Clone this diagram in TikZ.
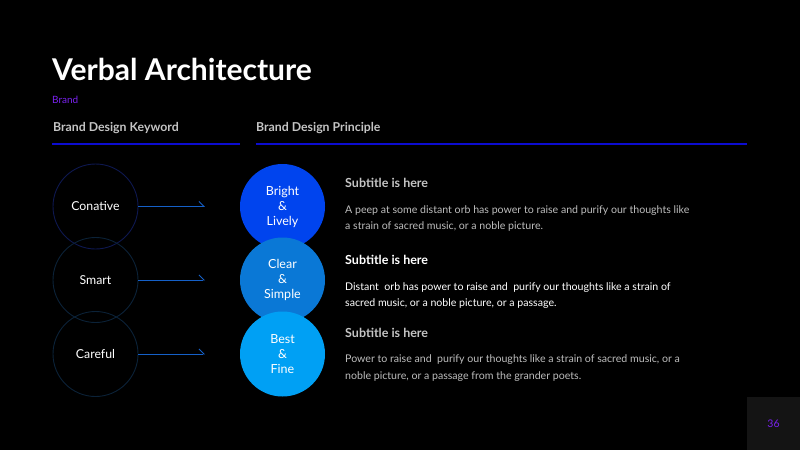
\documentclass[tikz,border=0pt]{standalone}
\usepackage{fontspec}
\setmainfont{Lato}
\usetikzlibrary{arrows.meta}
\definecolor{bgc}{HTML}{000000}
\definecolor{purp}{HTML}{7A22F0}
\definecolor{hdgray}{HTML}{C4C4C4}
\definecolor{bodygray}{HTML}{BDBDBD}
\definecolor{rulec}{HTML}{0C0CD0}
\definecolor{arrc}{HTML}{1560C8}
\definecolor{ringa}{HTML}{0E1850}
\definecolor{ringb}{HTML}{0B2238}
\definecolor{cbright}{HTML}{0044EE}
\definecolor{cclear}{HTML}{0A78D6}
\definecolor{cbest}{HTML}{00A0F4}
\definecolor{pgbox}{HTML}{141414}
\tikzset{
  keyring/.style={circle, draw=ringb, line width=0.9pt, minimum size=85pt, inner sep=0pt,
    text=white, font=\fontsize{12.3}{14}\selectfont},
  orb/.style={circle, minimum size=85pt, inner sep=0pt, text=white, align=center,
    font=\fontsize{12.5}{15}\selectfont},
  linkarrow/.style={draw=arrc, line width=0.9pt, -{Straight Barb[left,length=5pt,width=10pt]}},
  subt/.style={anchor=base west, inner sep=0pt, text=hdgray, font=\fontsize{12.5}{14}\selectfont\bfseries},
  bodytxt/.style={anchor=base west, inner sep=0pt, text=bodygray, font=\fontsize{10.6}{12}\selectfont},
  colhead/.style={anchor=base west, inner sep=0pt, text=hdgray, font=\fontsize{12.3}{14}\selectfont\bfseries},
  rulebar/.style={fill=rulec},
}
\begin{document}
\begin{tikzpicture}[x=1pt,y=-1pt]
\useasboundingbox (0,0) rectangle (800,450);
\fill[bgc] (0,0) rectangle (800,450);
% title
\node[anchor=base west, inner sep=0pt, text=white, font=\fontsize{30}{32}\selectfont\bfseries] (title) at (52,80) {Verbal Architecture};
\node[anchor=base west, inner sep=0pt, text=purp, font=\fontsize{10}{12}\selectfont] (brand) at (52,103) {Brand};
% column heads
\node[colhead] (kwhead) at (53,131) {Brand Design Keyword};
\node[colhead] (prhead) at (256,131) {Brand Design Principle};
\fill[rulebar] (52,143) rectangle (240,144.5);
\fill[rulebar] (256,143) rectangle (747,144.5);
% left rings
\node[keyring, draw=ringa] (k1) at (95.5,206.5) {Conative};
\node[keyring] (k2) at (95.5,280) {Smart};
\node[keyring] (k3) at (95.5,354) {Careful};
% arrow ends
\coordinate (e1) at (205,206.5);
\coordinate (e2) at (205,280);
\coordinate (e3) at (205,354);
\draw[linkarrow] (k1.east) -- (e1);
\draw[linkarrow] (k2.east) -- (e2);
\draw[linkarrow] (k3.east) -- (e3);
% right orbs
\node[orb, fill=cbright] (o1) at (282.5,206.5) {Bright\\\&\\Lively};
\node[orb, fill=cclear] (o2) at (282.5,280) {Clear\\\&\\Simple};
\node[orb, fill=cbest] (o3) at (282.5,354) {Best\\\&\\Fine};
% text blocks
\node[subt] (s1) at (345,187) {Subtitle is here};
\node[bodytxt] (b1a) at (345,213) {A peep at some distant orb has power to raise and purify our thoughts like};
\node[bodytxt] (b1b) at (345,229) {a strain of sacred music, or a noble picture.};
\node[subt, text=white] (s2) at (345,264.5) {Subtitle is here};
\node[bodytxt, text=white] (b2a) at (345,290) {Distant\ \ orb has power to raise and\ \ purify our thoughts like a strain of};
\node[bodytxt, text=white] (b2b) at (345,306.5) {sacred music, or a noble picture, or a passage.};
\node[subt] (s3) at (345,337.5) {Subtitle is here};
\node[bodytxt] (b3a) at (345,362.5) {Power to raise and\ \ purify our thoughts like a strain of sacred music, or a};
\node[bodytxt] (b3b) at (345,379.5) {noble picture, or a passage from the grander poets.};
% page number
\fill[pgbox] (747,397) rectangle (800,450);
\node[text=purp, font=\fontsize{10.5}{12}\selectfont] (pg) at (773.5,423.5) {36};
\end{tikzpicture}
\end{document}
